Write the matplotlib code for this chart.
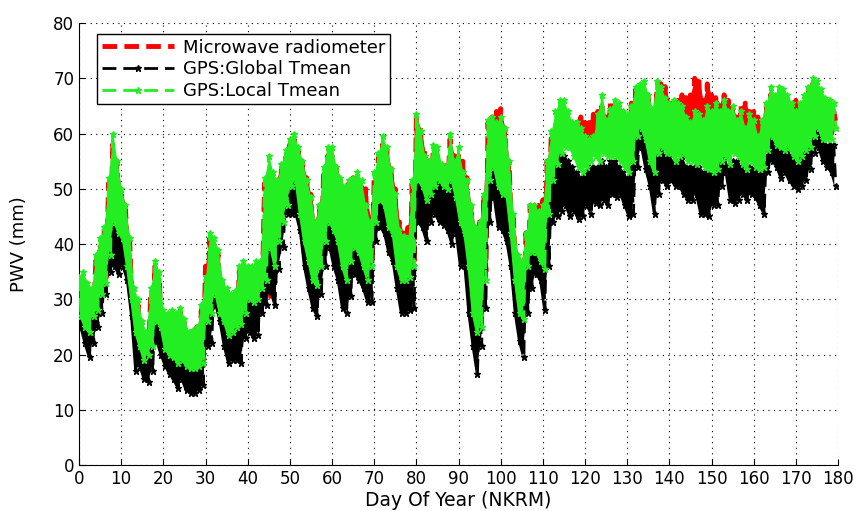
import numpy as np
import matplotlib.pyplot as plt

# day index 0..179, daily upper / lower envelope (PWV, mm)
days = np.arange(180)

radiometer_hi = [
    33, 34, 32, 31, 37, 40, 43, 51, 58, 55,
    50, 47, 41, 31, 29, 25, 24, 31, 36, 34,
    27, 27, 27, 27, 28, 26, 24, 24, 25, 28,
    36, 41, 40, 38, 33, 31, 30, 31, 35, 36,
    35, 36, 36, 37, 51, 52, 52, 52, 54, 56,
    58, 59, 57, 55, 52, 49, 44, 47, 53, 56,
    56, 54, 52, 50, 51, 52, 52, 51, 50, 45,
    52, 56, 58, 57, 54, 50, 44, 42, 43, 51,
    63, 61, 57, 55, 57, 56, 54, 54, 59, 56,
    56, 55, 52, 47, 43, 44, 49, 62, 63, 64,
    64.5, 61, 55, 45, 38, 37, 42, 47, 47, 47,
    48, 55, 60, 62, 64, 64, 62, 61, 62, 63,
    62, 62, 63.5, 64, 65, 63, 65.5, 65, 65, 64,
    63, 65.5, 68, 68.5, 68, 67, 64, 68, 69, 68.5,
    66, 66, 66, 67, 66.5, 67, 70, 70, 66, 69,
    67, 66.5, 65.5, 67, 66, 64.5, 63, 65, 65.5, 64,
    64, 63, 62, 65, 67, 66.5, 67, 67, 66.5, 65.5,
    66, 65, 66, 68, 69, 69, 67, 66, 65, 64,
]
radiometer_lo = [
    30, 27, 26, 28, 30, 32, 34, 40, 45, 44,
    42, 38, 31, 25, 22, 20, 20, 22, 23, 26,
    22, 21, 20, 19.5, 20, 19, 18.5, 18.5, 19, 20,
    27, 28, 31, 28, 27, 25, 25, 26, 27, 29,
    31, 31, 30, 33, 34, 30, 33, 41, 45, 48,
    51, 52, 46, 42, 38, 35, 34, 37, 42, 45,
    44, 42, 37, 35, 38, 41, 40, 37, 35, 37,
    45, 49, 48, 44, 43, 37, 35, 35, 35, 37,
    52, 51, 49, 49, 51, 52, 51, 51, 52, 50,
    46, 43, 37, 30, 27, 28, 35, 53, 55, 52,
    51, 50, 43, 35, 29, 28, 35, 39, 39, 38,
    37, 47, 53, 56, 58, 59, 59, 58, 57, 57,
    58, 58, 58, 57, 58, 57, 57, 57, 56, 55,
    55, 57, 61, 62, 60, 57, 55, 58, 59, 58,
    58, 57, 57, 58, 57, 57, 57, 57, 56, 56,
    55, 55, 57, 57, 56, 57, 57, 56, 55, 56,
    56, 55, 56, 58, 60, 59, 59, 58, 58, 57,
    57, 57, 58, 59, 60, 62, 60, 60, 60, 62,
]

global_hi = [
    30, 28, 27, 29, 31, 34, 36, 43, 49, 45,
    44, 40, 33, 26, 24, 22, 22, 24, 29, 28,
    23, 22, 22, 21, 21, 20, 19, 19, 20, 21,
    28, 31, 34, 31, 28, 26, 26, 27, 28, 30,
    32, 32, 32, 34, 40, 44, 40, 44, 47, 51,
    52, 52, 49, 45, 41, 37, 35, 39, 44, 48,
    46, 44, 40, 37, 40, 43, 42, 40, 37, 38,
    47, 50, 50, 47, 45, 40, 36, 36, 36, 40,
    53, 52, 50, 51, 52, 53, 52, 52, 53, 51,
    47, 45, 40, 32, 28, 29, 37, 53, 55, 53,
    52, 51, 46, 37, 31, 30, 38, 41, 41, 40,
    39, 48, 53, 55, 56, 56, 55, 54, 53, 52,
    53, 54, 54, 54, 55, 54, 55, 55, 54, 53,
    52, 54, 59, 61, 59, 56, 53, 56, 57, 56,
    56, 55, 55, 56, 54, 54, 54, 54, 53, 53,
    53, 53, 55, 56, 54, 55, 55, 54, 53, 54,
    54, 53, 54, 57, 59, 58, 57, 57, 57, 56,
    55, 56, 57, 58, 59, 61, 59, 58, 58, 58,
]
global_lo = [
    25, 22, 19.5, 22, 25, 27.5, 31, 35, 36, 34.5,
    36, 33.5, 27, 17, 18, 15.5, 15, 17, 22.5, 20,
    18, 16.5, 15.5, 14, 15.5, 13.5, 13, 13, 13.5, 14.5,
    21.5, 22, 29, 26, 21.5, 18.5, 19, 19, 18.5, 23,
    24, 23, 23.5, 27.5, 29, 31.5, 29, 35.5, 39.5, 45.5,
    45.5, 45.5, 42.5, 36, 32, 28.5, 27, 31, 36, 39.5,
    36, 33.5, 28.5, 27.5, 30.5, 34.5, 33.5, 32, 29.5, 29.5,
    40.5, 43, 42, 38.5, 37, 32, 27.5, 27.5, 28, 28.5,
    44, 43, 40.5, 44, 45.5, 44, 43.5, 42.5, 40, 42,
    36, 36.5, 27.5, 21.5, 16.5, 21.5, 28.5, 44, 48.5, 43,
    42.5, 40.5, 36, 27.5, 22.5, 19.5, 27.5, 32, 34.5, 33.5,
    28, 36, 44, 45, 46, 47, 45, 46, 44.5, 45,
    47, 45.5, 47.5, 47, 48, 47, 49, 48.5, 49, 47,
    45, 45.5, 54, 57.5, 53.5, 50.5, 45.5, 49, 51.5, 50.5,
    51.5, 50.5, 50.5, 49, 48, 48, 49, 45.5, 45.5, 45,
    47, 47, 50.5, 53, 48, 47.5, 48, 49, 48, 49,
    48.5, 47, 45.5, 53, 55, 54, 52, 53, 51.5, 50.5,
    50, 50.5, 51.5, 53.5, 56.5, 57.5, 55, 54, 53, 50.5,
]

local_hi = [
    34, 35, 33, 32, 38, 41, 43, 52, 60, 55,
    50, 47, 41, 32, 30, 26, 24, 32, 37, 35,
    28, 27.5, 28, 27.5, 28.5, 26.5, 24, 24.5, 25, 29,
    34, 42, 41, 39, 33.5, 32, 31, 31.5, 36, 37,
    36, 36, 37, 37, 52, 56, 53, 51.5, 54.5, 57,
    59, 60, 57.5, 55, 51.5, 48.5, 44, 47, 54, 57.5,
    57.5, 54, 52, 50.5, 51.5, 52, 53, 51.5, 47, 44,
    53, 56.5, 59.5, 57.5, 53.5, 49, 42.5, 41.5, 41, 51.5,
    63.5, 60.5, 56, 55, 58, 57.5, 54.5, 54, 60, 55,
    57.5, 53, 51.5, 47, 43, 44, 49, 62.5, 63, 62,
    63, 61, 55, 45.5, 38, 37, 42, 47, 47, 46,
    47, 55, 60.5, 64, 66, 66, 64, 62, 62, 61,
    59.5, 59, 59.5, 63.5, 67, 62.5, 64.5, 66, 65.5, 64,
    63.5, 65, 68.5, 69, 69.5, 67, 64.5, 69.5, 68.5, 66.5,
    65.5, 66, 65.5, 65, 63, 62, 64, 63.5, 62.5, 65,
    64, 65.5, 64, 66, 64, 65, 62.5, 64, 61, 63.5,
    62.5, 59.5, 62.5, 65.5, 68.5, 67, 68.5, 68, 67, 65.5,
    64, 65.5, 67, 68.5, 70, 69.5, 68, 66.5, 66, 65.5,
]
local_lo = [
    27, 25, 24, 27, 28, 31, 33, 38, 44, 42,
    41, 36, 30, 24, 21.5, 19, 20, 21.5, 26, 25,
    21, 20, 19.5, 18.5, 19, 18, 17.5, 17.5, 18, 18.5,
    26, 27.5, 31, 27.5, 26, 23.5, 24, 25, 25.5, 27.5,
    30, 29.5, 30, 32, 33.5, 39.5, 36, 40.5, 44, 47,
    50.5, 51.5, 45.5, 40.5, 37, 33.5, 32.5, 36, 40.5, 44,
    42.5, 40.5, 36, 33.5, 37, 39.5, 38.5, 36, 33.5, 36,
    44, 48, 47, 43, 42, 36, 33.5, 33.5, 34, 36,
    51.5, 50.5, 48, 49, 50.5, 51.5, 50.5, 50, 51.5, 48.5,
    44, 42, 36, 27.5, 24, 25, 33.5, 51.5, 54, 50.5,
    49, 49, 42, 33.5, 27.5, 26.5, 36, 38.5, 38.5, 37,
    35.5, 45.5, 51.5, 54.5, 56.5, 57.5, 57.5, 56, 54, 53,
    54, 55, 56, 55, 56.5, 56, 56, 56, 55, 54,
    53, 55, 59.5, 61, 59, 55, 53, 56.5, 57.5, 56.5,
    56.5, 55, 56, 56.5, 55, 55, 54.5, 55, 54, 53.5,
    53, 53.5, 55, 56, 54.5, 56.5, 56, 54.5, 53.5, 55,
    54, 53.5, 54, 57, 59.5, 58, 57.5, 57, 57.5, 56,
    55, 56, 57, 57.5, 59.5, 61, 59, 59, 59, 61,
]


def zigzag(hi, lo):
    # daily swing: high at day start, low at mid-day
    x = np.column_stack([days, days + 0.5]).ravel()
    y = np.column_stack([hi, lo]).ravel()
    return x, y


def draw_series(ax, hi, lo, color, label, z, **kw):
    # solid daily envelope underneath, ragged dashed trace on top
    ax.fill_between(days, lo, hi, color=color, linewidth=0, zorder=z)
    x, y = zigzag(hi, lo)
    ax.plot(x, y, color=color, linestyle='--', label=label, zorder=z, **kw)


plt.rcParams['font.family'] = 'DejaVu Sans'

fig = plt.figure(figsize=(8.58, 5.11), dpi=100)
ax = fig.add_axes([79 / 858, 46 / 511, 759 / 858, 442 / 511])

draw_series(ax, radiometer_hi, radiometer_lo, '#ff0000', 'Microwave radiometer', 2,
            dashes=(3, 1.5), linewidth=3.5)
draw_series(ax, global_hi, global_lo, 'black', 'GPS:Global Tmean', 3,
            dashes=(5, 2.5), linewidth=2, marker='*', markersize=5)
draw_series(ax, local_hi, local_lo, '#22ee22', 'GPS:Local Tmean', 4,
            dashes=(5, 2.5), linewidth=2, marker='*', markersize=5)

ax.set_xlim(0, 180)
ax.set_ylim(0, 80)
ax.set_xticks(np.arange(0, 181, 10))
ax.set_yticks(np.arange(0, 81, 10))
ax.tick_params(direction='in', length=4, labelsize=12, top=False, right=False)
ax.spines['top'].set_visible(False)
ax.spines['right'].set_visible(False)
ax.grid(True, color='black', linestyle=(0, (1, 4)), linewidth=0.8)
ax.set_axisbelow(True)

ax.set_xlabel('Day Of Year (NKRM)', fontsize=13.5, labelpad=2)
ax.set_ylabel('PWV (mm)', fontsize=13, labelpad=18)

leg = ax.legend(loc='upper left', bbox_to_anchor=(0.012, 0.995), fontsize=13,
                handlelength=4.0, fancybox=False, framealpha=1, edgecolor='black',
                borderpad=0.25, labelspacing=0.2, handletextpad=0.5)
leg.get_frame().set_linewidth(1.0)
leg.set_zorder(10)

fig.savefig('out.png', dpi=100)
